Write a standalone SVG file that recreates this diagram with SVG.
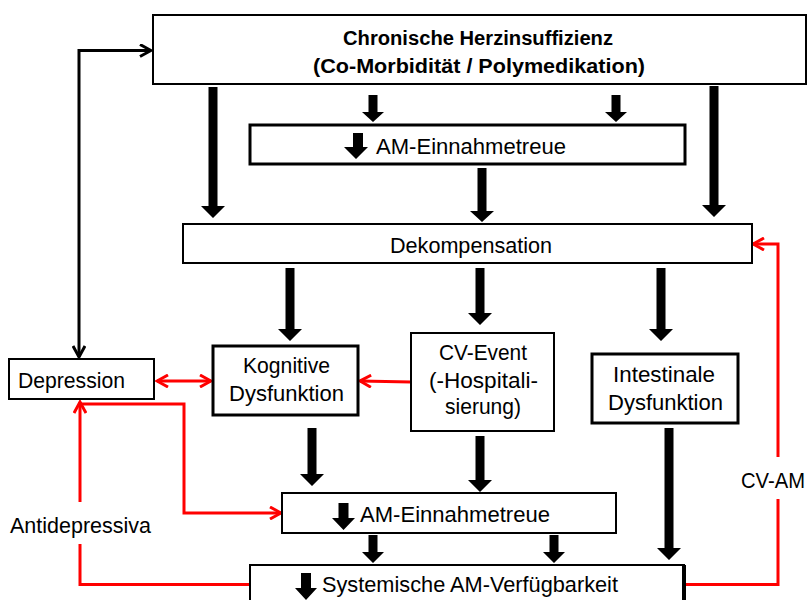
<svg xmlns="http://www.w3.org/2000/svg" width="810" height="600" viewBox="0 0 810 600">
<defs>
<style>
.box{fill:#fff;stroke:#000;stroke-width:2}
.thick{stroke-width:3}
.t{font-family:"Liberation Sans",Arial,sans-serif;font-size:22px;fill:#000}
.b{font-weight:bold;font-size:20px}
.blk{fill:#000;stroke:none}
.ln{fill:none;stroke:#000;stroke-width:3}
.red{fill:none;stroke:#ff0000;stroke-width:3}
</style>
<marker id="ab" viewBox="0 0 14 14" refX="12" refY="7" markerWidth="14" markerHeight="14" markerUnits="userSpaceOnUse" orient="auto-start-reverse">
<path d="M1,1 L12,7 L1,13" fill="none" stroke="#000" stroke-width="3"/>
</marker>
<marker id="ar" viewBox="0 0 14 14" refX="12" refY="7" markerWidth="14" markerHeight="14" markerUnits="userSpaceOnUse" orient="auto-start-reverse">
<path d="M1,1 L12,7 L1,13" fill="none" stroke="#ff0000" stroke-width="3"/>
</marker>
</defs>
<rect width="810" height="600" fill="#fff"/>

<g id="connectors">
<polygon class="blk" points="208.5,87 217.5,87 217.5,206 225,206 213,218 201,206 208.5,206"/>
<polygon class="blk" points="709.5,86 718.5,86 718.5,205 726,205 714,217 702,205 709.5,205"/>
<polygon class="blk" points="368.5,95 377.5,95 377.5,112 384,112 373,122 362,112 368.5,112"/>
<polygon class="blk" points="611.5,95 620.5,95 620.5,112 627,112 616,122 605,112 611.5,112"/>
<polygon class="blk" points="477.5,168 486.5,168 486.5,211 494,211 482,222 470,211 477.5,211"/>
<polygon class="blk" points="285.5,268 294.5,268 294.5,329 302,329 290,341 278,329 285.5,329"/>
<polygon class="blk" points="475.5,268 484.5,268 484.5,313 492,313 480,325 468,313 475.5,313"/>
<polygon class="blk" points="656.5,268 665.5,268 665.5,329 673,329 661,341 649,329 656.5,329"/>
<polygon class="blk" points="307.5,428 316.5,428 316.5,474 324,474 312,486 300,474 307.5,474"/>
<polygon class="blk" points="475.5,436 484.5,436 484.5,480 492,480 480,492 468,480 475.5,480"/>
<polygon class="blk" points="664.5,428 673.5,428 673.5,548 681,548 669,560 657,548 664.5,548"/>
<polygon class="blk" points="368.5,535 377.5,535 377.5,552 384,552 373,563 362,552 368.5,552"/>
<polygon class="blk" points="549.5,535 558.5,535 558.5,552 565,552 554,563 543,552 549.5,552"/>
<path class="ln" d="M79,357 L79,50.5 L151,50.5" marker-start="url(#ab)" marker-end="url(#ab)"/>
<path class="red" d="M157,381 L211,381" marker-start="url(#ar)" marker-end="url(#ar)"/>
<path class="red" d="M411,382 L360,381" marker-end="url(#ar)"/>
<path class="red" d="M80,502 L80,402" marker-end="url(#ar)"/>
<path class="red" d="M80,404 L184,404 L184,513 L281,513" marker-end="url(#ar)"/>
<path class="red" d="M80,544 L80,584.5 L250,584.5"/>
<path class="red" d="M685,584.5 L778,584.5 L778,499"/>
<path class="red" d="M778,457 L778,244 L753,244" marker-end="url(#ar)"/>
<text class="t" x="10" y="533" textLength="141" lengthAdjust="spacingAndGlyphs">Antidepressiva</text>
<text class="t" x="741" y="488" textLength="64" lengthAdjust="spacingAndGlyphs">CV-AM</text>
</g>

<g id="herzinsuffizienz">
<rect class="box" x="153" y="15" width="653" height="69"/>
<text class="t b" x="343" y="45" textLength="270" lengthAdjust="spacingAndGlyphs">Chronische Herzinsuffizienz</text>
<text class="t b" x="313" y="73" textLength="332" lengthAdjust="spacingAndGlyphs">(Co-Morbidität / Polymedikation)</text>
</g>

<g id="am-einnahmetreue-1">
<rect class="box thick" x="250" y="125" width="435" height="39"/>
<polygon class="blk" points="353,133 363,133 363,147 368,147 356,159 344,147 353,147"/>
<text class="t" x="376" y="154" textLength="190" lengthAdjust="spacingAndGlyphs">AM-Einnahmetreue</text>
</g>

<g id="dekompensation">
<rect class="box" x="183" y="224" width="569" height="39"/>
<text class="t" x="390" y="253" textLength="162" lengthAdjust="spacingAndGlyphs">Dekompensation</text>
</g>

<g id="depression">
<rect class="box" x="9" y="359" width="145" height="40"/>
<text class="t" x="18" y="388" textLength="107" lengthAdjust="spacingAndGlyphs">Depression</text>
</g>

<g id="kognitive-dysfunktion">
<rect class="box thick" x="213" y="346" width="145" height="69"/>
<text class="t" x="243" y="373" textLength="87" lengthAdjust="spacingAndGlyphs">Kognitive</text>
<text class="t" x="229" y="401" textLength="115" lengthAdjust="spacingAndGlyphs">Dysfunktion</text>
</g>

<g id="cv-event">
<rect class="box" x="411" y="333" width="143" height="98"/>
<text class="t" x="439" y="360" textLength="88" lengthAdjust="spacingAndGlyphs">CV-Event</text>
<text class="t" x="429" y="388" textLength="109" lengthAdjust="spacingAndGlyphs">(-Hospitali-</text>
<text class="t" x="445" y="414" textLength="76" lengthAdjust="spacingAndGlyphs">sierung)</text>
</g>

<g id="intestinale-dysfunktion">
<rect class="box thick" x="592" y="354" width="146" height="69"/>
<text class="t" x="613" y="382" textLength="102" lengthAdjust="spacingAndGlyphs">Intestinale</text>
<text class="t" x="608" y="410" textLength="115" lengthAdjust="spacingAndGlyphs">Dysfunktion</text>
</g>

<g id="am-einnahmetreue-2">
<rect class="box" x="282" y="493" width="334" height="40"/>
<polygon class="blk" points="338.5,503 348.5,503 348.5,518 355,518 343.5,530 332,518 338.5,518"/>
<text class="t" x="360" y="522" textLength="190" lengthAdjust="spacingAndGlyphs">AM-Einnahmetreue</text>
</g>

<g id="systemische-verfuegbarkeit">
<rect class="box" x="250" y="565" width="434" height="40"/>
<line x1="684" y1="565" x2="684" y2="600" stroke="#000" stroke-width="4"/>
<polygon class="blk" points="301,573 311,573 311,588 317,588 306,600 295,588 301,588"/>
<text class="t" x="322" y="592" textLength="296" lengthAdjust="spacingAndGlyphs">Systemische AM-Verfügbarkeit</text>
</g>
</svg>
